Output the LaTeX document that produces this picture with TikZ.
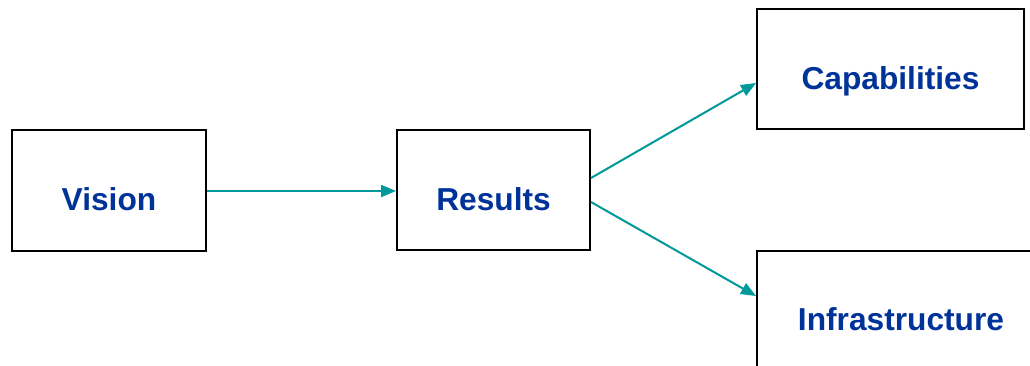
\documentclass[tikz,border=0pt]{standalone}
\usepackage{fontspec}
\setmainfont{Liberation Sans}
\usetikzlibrary{arrows.meta}
\definecolor{arrowteal}{HTML}{009999}
\definecolor{textblue}{HTML}{003399}
\tikzset{
  box/.style={draw=black, line width=2pt, rectangle, inner sep=0pt, fill=white},
  lbl/.style={anchor=base, inner sep=0pt, text=textblue, font=\fontsize{31.7}{38}\selectfont\bfseries},
  conn/.style={draw=arrowteal, line width=2pt, -{Triangle[length=15pt,width=12pt]}}
}
\begin{document}
\begin{tikzpicture}[x=1pt,y=-1pt]
\useasboundingbox (0,0) rectangle (1030,366);
\clip (0,0) rectangle (1030,366);
\node[box, minimum width=194pt, minimum height=121pt] (vision) at (109,190.5) {};
\node[box, minimum width=193pt, minimum height=120pt] (results) at (493.5,190) {};
\node[box, minimum width=267pt, minimum height=120pt] (capab) at (890.5,69) {};
\node[box, minimum width=288pt, minimum height=120pt] (infra) at (901,311) {};
\node[lbl] (tvision) at (109,211) {Vision};
\node[lbl] (tresults) at (493.5,211) {Results};
\node[lbl] (tcapab) at (890.5,90) {Capabilities};
\node[lbl] (tinfra) at (901,330) {Infrastructure};
\draw[conn] ([yshift=-0.5pt]vision.east) -- ([yshift=-1pt]results.west);
\draw[conn] ([yshift=12pt]results.east) -- ([yshift=-14pt]capab.west);
\draw[conn] ([yshift=-12pt]results.east) -- ([yshift=15pt]infra.west);
\end{tikzpicture}
\end{document}
